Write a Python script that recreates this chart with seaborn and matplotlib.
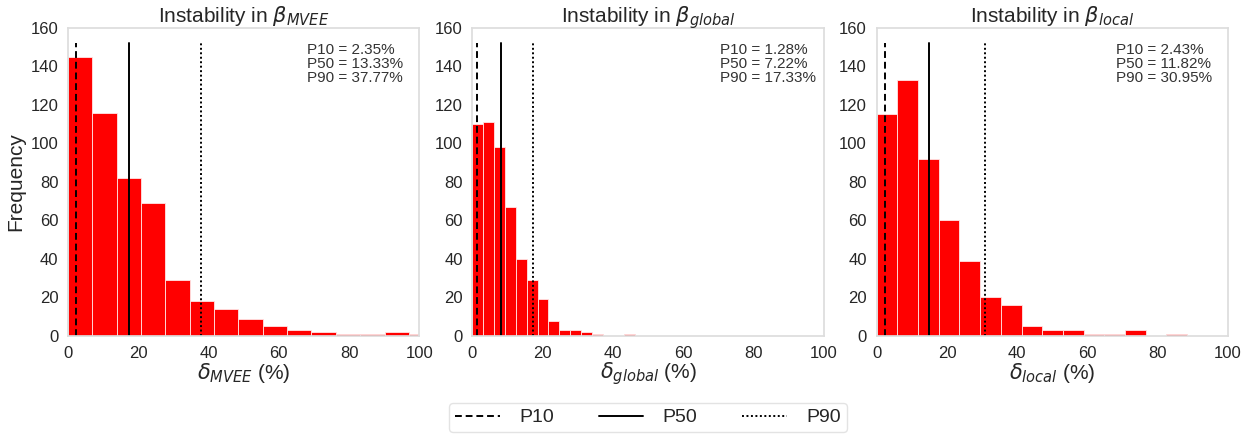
import matplotlib

matplotlib.use("Agg")
import matplotlib.pyplot as plt
import pandas as pd
import seaborn as sns
from matplotlib.lines import Line2D

# counts per histogram bin
counts_mvee = [145, 116, 82, 69, 29, 18, 14, 9, 5, 3, 2, 1, 1, 2, 1]
counts_global = [110, 111, 98, 67, 40, 29, 19, 8, 3, 3, 2, 1, 0, 0, 1]
counts_local = [115, 133, 92, 60, 39, 20, 16, 5, 3, 3, 1, 1, 3, 0, 1]
bin_width = [6.93, 3.09, 5.89]

titles = [r"Instability in $\beta_{MVEE}$", r"Instability in $\beta_{global}$", r"Instability in $\beta_{local}$"]
xlabels = [r"$\delta_{MVEE}$ (%)", r"$\delta_{global}$ (%)", r"$\delta_{local}$ (%)"]

p10 = [2.35, 1.28, 2.43]
p50 = [13.33, 7.22, 11.82]
p90 = [37.77, 17.33, 30.95]
# the solid line sits at a different spot than the P50 label in the source
p50_line = [17.3, 8.2, 14.9]

sns.set_theme(style="whitegrid")
plt.rcParams["font.family"] = ["Liberation Sans", "DejaVu Sans"]

fig, axes = plt.subplots(1, 3, figsize=(12.51, 4.42), dpi=100)
fig.subplots_adjust(left=0.0544, right=0.9816, top=0.937, bottom=0.24, wspace=0.151)

all_counts = [counts_mvee, counts_global, counts_local]
for i, ax in enumerate(axes):
    n = len(all_counts[i])
    edges = [k * bin_width[i] for k in range(n + 1)]
    frame = pd.DataFrame({
        "x": [k * bin_width[i] + bin_width[i] / 2 for k in range(n)],
        "count": all_counts[i],
    })
    sns.histplot(data=frame, x="x", weights="count", bins=edges, color="#ff0000", alpha=1,
                 edgecolor="#ffe5e5", linewidth=0.6, ax=ax)
    ax.axvline(p10[i], ymax=0.95, color="black", linestyle=(0, (3.5, 2)), linewidth=1.4)
    ax.axvline(p50_line[i], ymax=0.95, color="black", linestyle="-", linewidth=1.4)
    ax.axvline(p90[i], ymax=0.95, color="black", linestyle=(0, (1, 1.3)), linewidth=1.4)
    ax.set_xlim(0, 100)
    ax.set_ylim(0, 160)
    ax.set_xticks(range(0, 101, 20))
    ax.set_yticks(range(0, 161, 20))
    ax.grid(False)
    for spine in ax.spines.values():
        spine.set_color("#dddddd")
    ax.tick_params(labelsize=12, pad=1)
    ax.set_title(titles[i], fontsize=15, pad=4)
    ax.set_xlabel(xlabels[i], fontsize=15, labelpad=0)
    ax.set_ylabel("Frequency" if i == 0 else "", fontsize=15)
    text_x = [0.68, 0.704, 0.68][i]
    ax.text(text_x, 0.952, f"P10 = {p10[i]:.2f}%\nP50 = {p50[i]:.2f}%\nP90 = {p90[i]:.2f}%",
            transform=ax.transAxes, ha="left", va="top", fontsize=11,
            color="#333333", linespacing=1.0)

handles = [
    Line2D([], [], color="black", linestyle=(0, (3.5, 2)), linewidth=1.4),
    Line2D([], [], color="black", linestyle="-", linewidth=1.4),
    Line2D([], [], color="black", linestyle=(0, (1, 1.3)), linewidth=1.4),
]
fig.legend(handles, ["P10", "P50", "P90"], loc="lower center", bbox_to_anchor=(0.518, 0.0),
           ncol=3, fontsize=14, handlelength=2.3, handletextpad=1.0, columnspacing=2.3,
           frameon=True, edgecolor="#dddddd", borderpad=0.3)

fig.savefig("out.png", dpi=100)
